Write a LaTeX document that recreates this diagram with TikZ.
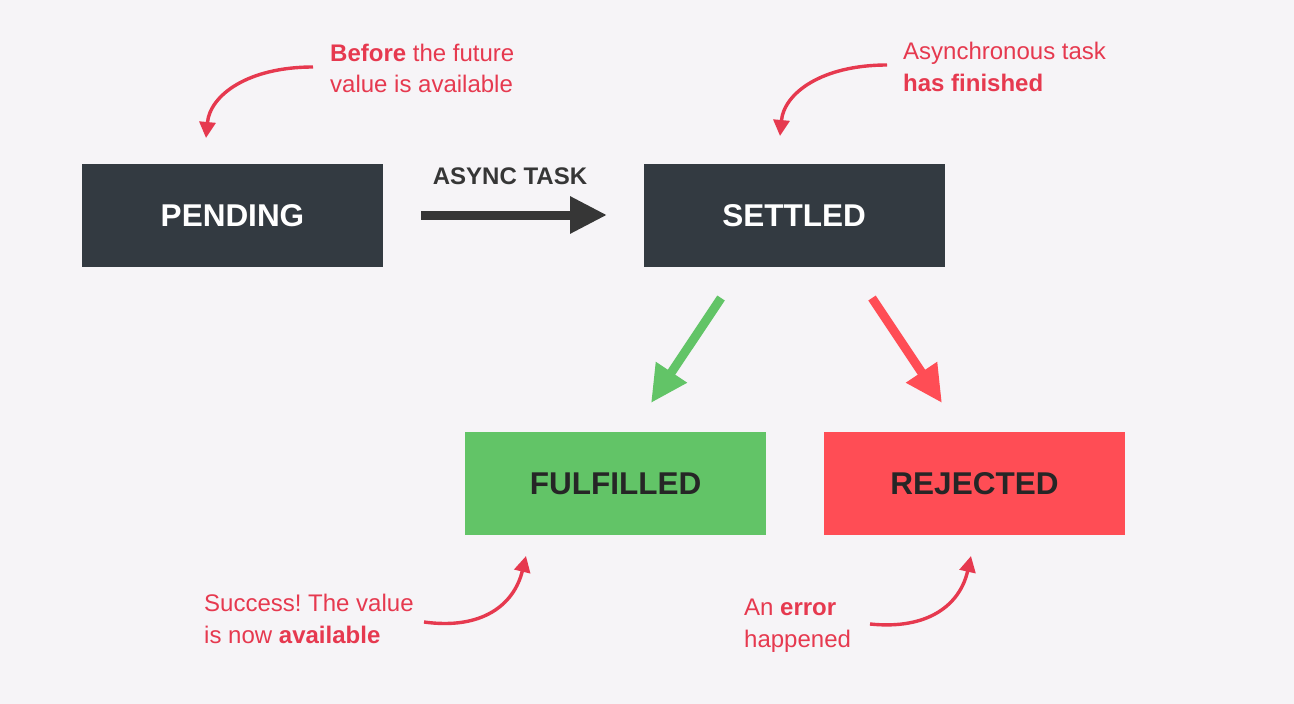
\documentclass[tikz,border=0pt]{standalone}
\usepackage{fontspec}
\setmainfont{Liberation Sans}
\usetikzlibrary{arrows.meta}
\frenchspacing
\definecolor{bg}{HTML}{F6F4F7}
\definecolor{darkbox}{HTML}{333A41}
\definecolor{darkarrow}{HTML}{363636}
\definecolor{greenbox}{HTML}{62C467}
\definecolor{redbox}{HTML}{FF4D55}
\definecolor{note}{HTML}{E6394F}
\tikzset{
  box/.style={minimum width=301pt, minimum height=103pt, inner sep=0pt, font=\fontsize{31.5}{31.5}\selectfont\bfseries},
  darkst/.style={box, fill=darkbox, text=white},
  greenst/.style={box, fill=greenbox, text=black!85},
  redst/.style={box, fill=redbox, text=black!85},
  notetext/.style={text=note, align=left, anchor=north west, inner sep=0pt, font=\fontsize{24}{31.5}\selectfont\frenchspacing},
  notearrow/.style={draw=note, line width=3.4pt, -{Triangle[length=16pt,width=16pt]}},
  bigarrow/.style={line width=9pt, -{Triangle[length=37pt,width=35pt]}}
}
\begin{document}
\begin{tikzpicture}[x=1pt,y=-1pt]
\fill[bg] (0,0) rectangle (1294,704);
\useasboundingbox (0,0) rectangle (1294,704);

\node[darkst] (pending) at (232.5,215.5) {PENDING};
\node[darkst] (settled) at (794,215.5) {SETTLED};
\node[greenst] (fulfilled) at (615.5,483.5) {FULFILLED};
\node[redst] (rejected) at (974.5,483.5) {REJECTED};

% async task arrow
\node[text=darkarrow, font=\fontsize{24}{24}\selectfont\bfseries, inner sep=0pt] (async) at (510,176.5) {ASYNC TASK};
\coordinate (a1) at (421,215);
\coordinate (a2) at (607,215);
\draw[bigarrow, darkarrow] (a1) -- (a2);

% branch arrows
\coordinate (g1) at (721,298);
\coordinate (g2) at (651,403);
\draw[bigarrow, greenbox] (g1) -- (g2);
\coordinate (r1) at (872,298);
\coordinate (r2) at (942,403);
\draw[bigarrow, redbox] (r1) -- (r2);

% annotations
\node[notetext] (n1) at (330,43.5) {\textbf{Before} the future\\value is available};
\coordinate (n1s) at (313,67);
\coordinate (n1e) at (206,138);
\draw[notearrow] (n1s) .. controls (248,67) and (210,95) .. (n1e);

\node[notetext] (n2) at (903,42) {Asynchronous task\\\textbf{has finished}};
\coordinate (n2s) at (887,65);
\coordinate (n2e) at (780,136);
\draw[notearrow] (n2s) .. controls (822,65) and (784,93) .. (n2e);

\node[notetext] (n3) at (204,594) {Success! The value\\is now \textbf{available}};
\coordinate (n3s) at (424,622);
\coordinate (n3e) at (526,556);
\draw[notearrow] (n3s) .. controls (482,630) and (514,605) .. (n3e);

\node[notetext] (n4) at (744,599) {An \textbf{error}\\happened};
\coordinate (n4s) at (870,624);
\coordinate (n4e) at (971,556);
\draw[notearrow] (n4s) .. controls (928,630) and (960,605) .. (n4e);
\end{tikzpicture}
\end{document}
